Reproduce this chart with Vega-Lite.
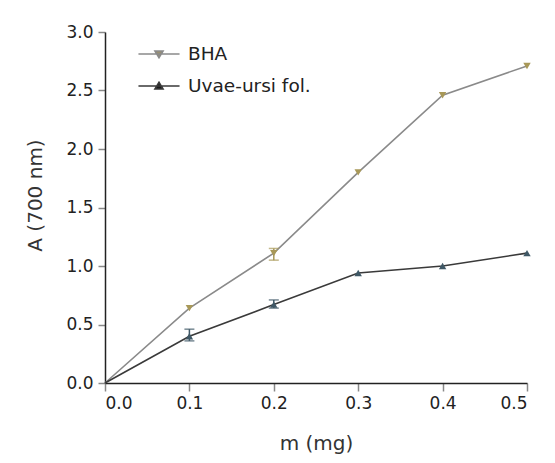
{
  "$schema": "https://vega.github.io/schema/vega-lite/v6.json",
  "autosize": "none",
  "width": 422,
  "height": 351,
  "padding": {"left": 105, "top": 32, "right": 28, "bottom": 80},
  "background": "white",
  "config": {
    "view": {"stroke": null},
    "font": "DejaVu Sans",
    "axis": {"grid": false, "domainColor": "#222", "domainWidth": 1.5, "tickColor": "#888", "tickWidth": 1.5, "labelFont": "DejaVu Sans", "labelFontSize": 17, "labelColor": "#222", "titleFont": "DejaVu Sans", "titleFontSize": 20, "titleFontWeight": "normal", "titleColor": "#333"}
  },
  "datasets": {
    "series": [
      {"m": 0.0, "A": 0.0, "s": "BHA"},
      {"m": 0.1, "A": 0.64, "s": "BHA"},
      {"m": 0.2, "A": 1.11, "s": "BHA"},
      {"m": 0.3, "A": 1.80, "s": "BHA"},
      {"m": 0.4, "A": 2.46, "s": "BHA"},
      {"m": 0.5, "A": 2.71, "s": "BHA"},
      {"m": 0.0, "A": 0.0, "s": "Uvae-ursi fol."},
      {"m": 0.1, "A": 0.40, "s": "Uvae-ursi fol."},
      {"m": 0.2, "A": 0.67, "s": "Uvae-ursi fol."},
      {"m": 0.3, "A": 0.94, "s": "Uvae-ursi fol."},
      {"m": 0.4, "A": 1.00, "s": "Uvae-ursi fol."},
      {"m": 0.5, "A": 1.11, "s": "Uvae-ursi fol."}
    ],
    "errors": [
      {"m": 0.2, "lo": 1.05, "hi": 1.15, "s": "BHA"},
      {"m": 0.1, "lo": 0.36, "hi": 0.46, "s": "Uvae-ursi fol."},
      {"m": 0.2, "lo": 0.64, "hi": 0.71, "s": "Uvae-ursi fol."}
    ]
  },
  "layer": [
    {
      "data": {"name": "series"},
      "mark": {"type": "line", "strokeWidth": 1.6},
      "encoding": {
        "x": {"field": "m", "type": "quantitative", "scale": {"domain": [0, 0.5], "nice": false},
              "axis": {"values": [0, 0.1, 0.2, 0.3, 0.4, 0.5], "format": ".1f", "tickSize": 8, "labelPadding": 4, "title": "m (mg)", "titleBaseline": "middle", "titleY": 60}},
        "y": {"field": "A", "type": "quantitative", "scale": {"domain": [0, 3], "nice": false},
              "axis": {"values": [0, 0.5, 1, 1.5, 2, 2.5, 3], "format": ".1f", "tickSize": 7, "labelPadding": 5, "title": "A (700 nm)", "titleBaseline": "middle", "titleX": -70, "titleY": 163}},
        "color": {"field": "s", "type": "nominal",
                  "scale": {"domain": ["BHA", "Uvae-ursi fol."], "range": ["#8a8a8a", "#3a3a3a"]},
                  "legend": {"title": null, "orient": "none", "legendX": 38, "legendY": 6, "padding": 0,
                             "symbolSize": 900, "symbolStrokeWidth": 1.6, "labelOffset": 13, "labelFont": "DejaVu Sans", "labelFontSize": 18.5, "labelColor": "#222", "rowPadding": 6,
                             "encode": {"symbols": {"update": {
                               "shape": {"signal": "datum.value === 'BHA' ? 'M-1.37,0H1.37M-0.27,-0.2H0.27L0,0.25Z' : 'M-1.37,0H1.37M-0.27,0.2H0.27L0,-0.25Z'"},
                               "stroke": {"signal": "datum.value === 'BHA' ? '#aaa38a' : '#1a1a1a'"},
                               "fill": {"signal": "datum.value === 'BHA' ? '#9a9070' : '#1a1a1a'"}}}}}}
      }
    },
    {
      "data": {"name": "errors"},
      "mark": {"type": "rule", "strokeWidth": 1.5},
      "encoding": {
        "x": {"field": "m", "type": "quantitative"},
        "y": {"field": "lo", "type": "quantitative"},
        "y2": {"field": "hi"},
        "color": {"field": "s", "type": "nominal", "scale": {"domain": ["BHA", "Uvae-ursi fol."], "range": ["#a89858", "#3f5866"]}, "legend": null}
      }
    },
    {
      "data": {"name": "errors"},
      "mark": {"type": "tick", "orient": "horizontal", "size": 10, "thickness": 1.5},
      "encoding": {
        "x": {"field": "m", "type": "quantitative"},
        "y": {"field": "lo", "type": "quantitative"},
        "color": {"field": "s", "type": "nominal", "scale": {"domain": ["BHA", "Uvae-ursi fol."], "range": ["#a89858", "#3f5866"]}, "legend": null}
      }
    },
    {
      "data": {"name": "errors"},
      "mark": {"type": "tick", "orient": "horizontal", "size": 10, "thickness": 1.5},
      "encoding": {
        "x": {"field": "m", "type": "quantitative"},
        "y": {"field": "hi", "type": "quantitative"},
        "color": {"field": "s", "type": "nominal", "scale": {"domain": ["BHA", "Uvae-ursi fol."], "range": ["#a89858", "#3f5866"]}, "legend": null}
      }
    },
    {
      "data": {"name": "series"},
      "transform": [{"filter": "datum.m > 0"}],
      "mark": {"type": "point", "filled": true, "size": 55, "opacity": 1},
      "encoding": {
        "x": {"field": "m", "type": "quantitative"},
        "y": {"field": "A", "type": "quantitative"},
        "shape": {"field": "s", "type": "nominal", "scale": {"domain": ["BHA", "Uvae-ursi fol."], "range": ["triangle-down", "triangle-up"]}, "legend": null},
        "color": {"field": "s", "type": "nominal", "scale": {"domain": ["BHA", "Uvae-ursi fol."], "range": ["#a89858", "#3f5866"]}, "legend": null}
      }
    }
  ],
  "resolve": {"scale": {"color": "independent"}}
}
